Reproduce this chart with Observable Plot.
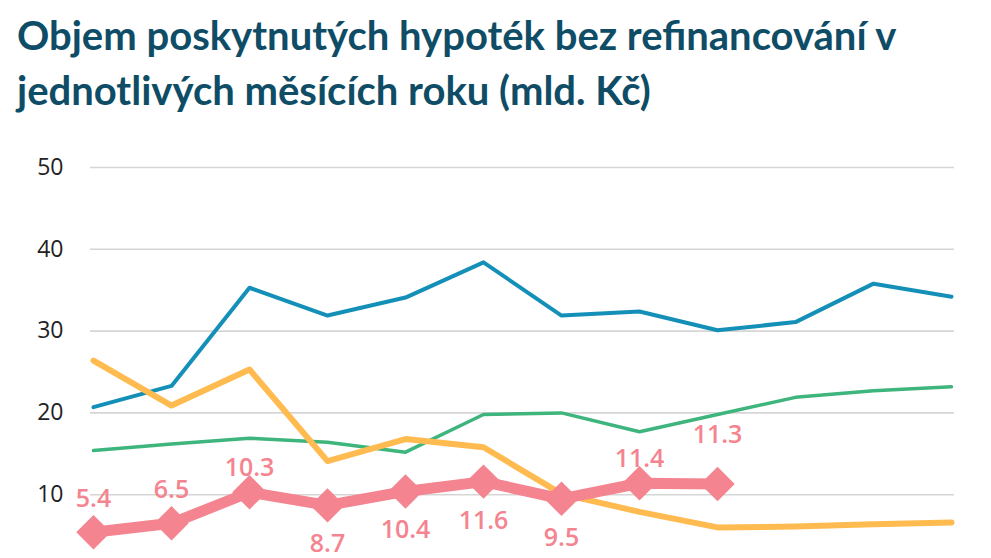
<!DOCTYPE html>
<html>
<head>
<meta charset="utf-8">
<script src="https://cdn.jsdelivr.net/npm/d3@7"></script>
<script src="https://cdn.jsdelivr.net/npm/@observablehq/plot@0.6"></script>
<style>
  html, body { margin: 0; padding: 0; background: #fff; overflow: hidden; width: 991px; height: 558px; }
  #title { position: absolute; left: 17px; top: 8px; font-family: Lato, "Open Sans", sans-serif; font-weight: 700; font-size: 40px; line-height: 55px; color: #0f4d67; white-space: nowrap; }
  #chart { position: absolute; left: 0; top: 130px; }
</style>
</head>
<body>
<div id="title">Objem poskytnutých hypoték bez refinancování v<br>jednotlivých měsících roku (mld. Kč)</div>
<div id="chart"></div>
<script>
const months = ["leden", "únor", "březen", "duben", "květen", "červen", "červenec", "srpen", "září", "říjen", "listopad", "prosinec"];
const yTicks = [10, 20, 30, 40, 50];

const series2020 = [15.4, 16.2, 16.9, 16.4, 15.2, 19.8, 20.0, 17.7, 19.8, 21.9, 22.7, 23.2];
const series2021 = [20.7, 23.3, 35.3, 31.9, 34.1, 38.4, 31.9, 32.4, 30.1, 31.1, 35.8, 34.2];
const series2022 = [26.4, 20.9, 25.3, 14.1, 16.8, 15.8, 10.1, 7.9, 6.0, 6.1, 6.4, 6.6];
const series2023 = [5.4, 6.5, 10.3, 8.7, 10.4, 11.6, 9.5, 11.4, 11.3];

const toRows = (vals, name) => vals.map((v, i) => ({month: months[i], value: v, series: name}));
const d2020 = toRows(series2020, "2020");
const d2021 = toRows(series2021, "2021");
const d2022 = toRows(series2022, "2022");
const d2023 = toRows(series2023, "2023");

const aboveNear = new Set(["březen", "srpen"]);
const aboveMid = new Set(["leden", "únor"]);
const aboveFar = new Set(["září"]);
const isAbove = m => aboveNear.has(m) || aboveMid.has(m) || aboveFar.has(m);
const fmt = d3.format(".1f");
const pink = "#f4848f";
const labelStyle = {x: "month", y: "value", text: d => fmt(d.value), fill: pink, fontSize: 25, fontWeight: 600};

const chart = Plot.plot({
  width: 991,
  height: 470,
  marginLeft: 90,
  marginRight: 37,
  marginTop: 37,
  marginBottom: 24,
  style: {fontFamily: "'Open Sans', sans-serif", background: "transparent", overflow: "visible"},
  x: {type: "point", domain: months, padding: 0, axis: null},
  y: {domain: [0, 50], ticks: yTicks, tickSize: 0, tickPadding: 27, label: null, tickFormat: d => d},
  marks: [
    Plot.ruleY(yTicks, {stroke: "#d6d6d6", strokeWidth: 1.6}),
    Plot.axisY({ticks: yTicks, tickSize: 0, tickPadding: 27, fontSize: 23, fill: "#222", label: null}),
    Plot.line(d2020, {x: "month", y: "value", stroke: "#3db57c", strokeWidth: 3.5}),
    Plot.line(d2021, {x: "month", y: "value", stroke: "#1490b8", strokeWidth: 4}),
    Plot.line(d2022, {x: "month", y: "value", stroke: "#ffbb50", strokeWidth: 6}),
    Plot.line(d2023, {x: "month", y: "value", stroke: pink, strokeWidth: 11}),
    Plot.dot(d2023, {x: "month", y: "value", symbol: "diamond2", r: 15.5, fill: pink, stroke: "none"}),
    Plot.text(d2023.filter(d => aboveNear.has(d.month)), {...labelStyle, dy: -24}),
    Plot.text(d2023.filter(d => aboveMid.has(d.month)), {...labelStyle, dy: -33}),
    Plot.text(d2023.filter(d => aboveFar.has(d.month)), {...labelStyle, dy: -49}),
    Plot.text(d2023.filter(d => !isAbove(d.month)), {...labelStyle, dy: 39})
  ]
});
document.getElementById("chart").appendChild(chart);
</script>
</body>
</html>
